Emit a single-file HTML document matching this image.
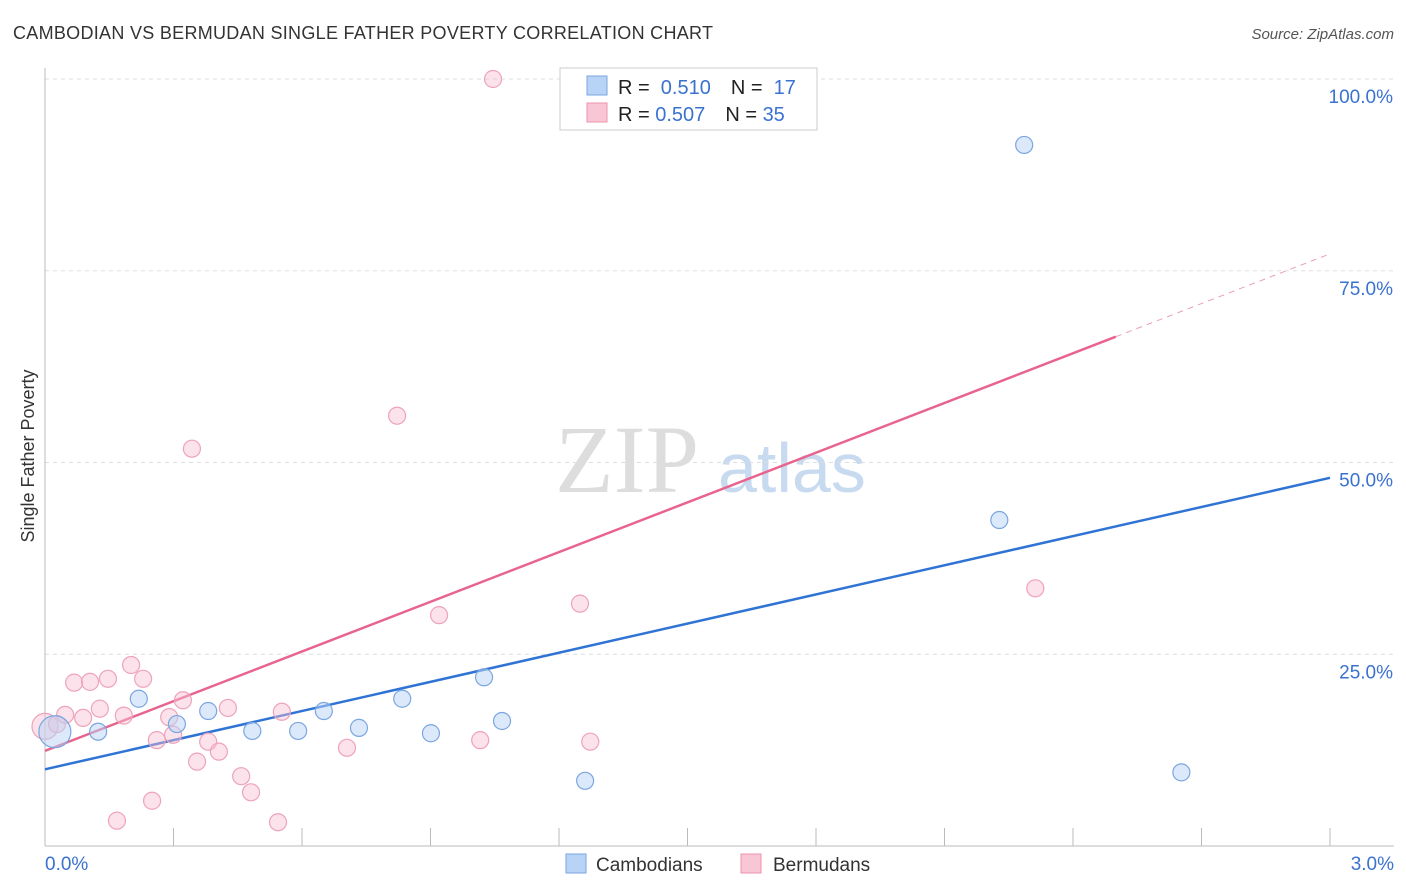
<!DOCTYPE html>
<html><head><meta charset="utf-8"><style>
body{margin:0;background:#fff;font-family:"Liberation Sans",sans-serif;}
svg{display:block}
</style></head><body>
<svg id="c" width="1406" height="892">
<text x="13" y="39" font-size="18" fill="#333" textLength="700">CAMBODIAN VS BERMUDAN SINGLE FATHER POVERTY CORRELATION CHART</text>
<text x="1394" y="39" font-size="15" fill="#555" font-style="italic" text-anchor="end">Source: ZipAtlas.com</text>
<text transform="translate(34,456) rotate(-90)" font-size="18" fill="#333" text-anchor="middle">Single Father Poverty</text>
<text x="555" y="492" font-size="96" fill="#ddd" font-family="Liberation Serif,serif">ZIP</text>
<text x="718" y="492" font-size="70" fill="#c8daf0">atlas</text>
<g id="grid"></g><g id="lines"></g><g id="pts"></g>
<g>
<rect x="560" y="68" width="257" height="62" fill="#fff" stroke="#ccc"/>
<rect x="587" y="76" width="20" height="19" fill="#b7d3f5" stroke="#7ba6e0"/>
<rect x="587" y="103" width="20" height="19" fill="#f9c6d5" stroke="#eb94ad"/>
<text x="618" y="94" font-size="20" fill="#222">R = <tspan fill="#3a72d0">&#160;0.510</tspan><tspan dx="20">N = </tspan><tspan fill="#3a72d0">&#160;17</tspan></text>
<text x="618" y="121" font-size="20" fill="#222">R = <tspan fill="#3a72d0">0.507</tspan><tspan dx="20">N = </tspan><tspan fill="#3a72d0">35</tspan></text>
</g>
<g>
<rect x="566" y="854" width="20" height="19" fill="#b7d3f5" stroke="#7ba6e0"/>
<text x="596" y="871" font-size="19" fill="#333">Cambodians</text>
<rect x="741" y="854" width="20" height="19" fill="#f9c6d5" stroke="#eb94ad"/>
<text x="773" y="871" font-size="19" fill="#333">Bermudans</text>
</g>
</svg>
<script>
const blueX=[0.023,0.124,0.219,0.308,0.381,0.484,0.591,0.651,0.733,0.834,0.901,1.025,1.067,1.261,2.228,2.286,2.653];
const blueY=[14.9,14.9,19.2,15.9,17.6,15.0,15.0,17.6,15.4,19.2,14.7,22.0,16.3,8.5,42.5,91.4,9.6];
const pinkX=[0.0,0.028,0.047,0.068,0.089,0.105,0.128,0.147,0.184,0.201,0.229,0.168,0.250,0.261,0.290,0.299,0.322,0.343,0.355,0.381,0.406,0.427,0.458,0.481,0.544,0.553,0.705,0.822,0.920,1.016,1.046,1.249,1.273,2.312,1.733];
const pinkY=[15.6,15.9,17.1,21.3,16.7,21.4,17.9,21.8,17.0,23.6,21.8,3.3,5.9,13.8,16.8,14.5,19.0,51.8,11.0,13.6,12.3,18.0,9.1,7.0,3.1,17.5,12.8,56.1,30.1,13.8,100,31.6,13.6,33.6,99.9];
const blueLine=[10.0,48.0];
const pinkLine=[12.4,77.2];
const pinkSolidEnd=2.5;
const yTicks=[25,50,75,100];
const yTickLabels=["25.0%","50.0%","75.0%","100.0%"];
const xTickLabels=["0.0%","3.0%"];
const NS="http://www.w3.org/2000/svg";
const X=v=>45+v/3*1285, Y=v=>846-v/100*767;
function mk(t,a,p){const e=document.createElementNS(NS,t);for(const k in a)e.setAttribute(k,a[k]);p.appendChild(e);return e;}
const g=document.getElementById('grid');
yTicks.forEach((t,i)=>{
 const l=mk('line',{x1:45,x2:1394,y1:Y(t),y2:Y(t),stroke:'#ddd','stroke-dasharray':'4,4'},g);
 
 
 const tx=mk('text',{x:1393,y:Y(t)+24,'font-size':19,fill:'#3a72d0','text-anchor':'end'},g);
 tx.textContent=yTickLabels[i];
 
 
});
let a=mk('line',{x1:45,x2:45,y1:68,y2:846,stroke:'#bbb'},g);


a=mk('line',{x1:45,x2:1394,y1:846,y2:846,stroke:'#bbb'},g);


for(let i=1;i<=10;i++){const t=mk('line',{x1:X(i*0.3),x2:X(i*0.3),y1:828,y2:846,stroke:'#bbb'},g);
 
 }
[[0,'start',45],[3,'end',1394]].forEach((d,i)=>{const t=mk('text',{x:d[2],y:870,'font-size':19,fill:'#3a72d0','text-anchor':d[1]},g);t.textContent=xTickLabels[i];
 
 });
const L=document.getElementById('lines');
let ln=mk('line',{x1:X(0),y1:Y(blueLine[0]),x2:X(3),y2:Y(blueLine[1]),stroke:'#2f74d4','stroke-width':2.5},L);


const py=x=>pinkLine[0]+(pinkLine[1]-pinkLine[0])*x/3;
ln=mk('line',{x1:X(0),y1:Y(py(0)),x2:X(pinkSolidEnd),y2:Y(py(pinkSolidEnd)),stroke:'#e8648e','stroke-width':2.5},L);


ln=mk('line',{x1:X(pinkSolidEnd),y1:Y(py(pinkSolidEnd)),x2:X(3),y2:Y(py(3)),stroke:'#e8a0b6','stroke-width':1,'stroke-dasharray':'6,5'},L);


const P=document.getElementById('pts');
pinkX.forEach((x,i)=>{const c=mk('circle',{cx:X(x),cy:Y(pinkY[i]),r:i==0?13:8.5,fill:'rgba(249,190,208,0.45)',stroke:'#eea3ba','stroke-width':1.2},P);
 
 });
blueX.forEach((x,i)=>{const c=mk('circle',{cx:X(x),cy:Y(blueY[i]),r:i==0?16:8.5,fill:'rgba(183,211,245,0.5)',stroke:'#7ba6e0','stroke-width':1.2},P);
 
 });
</script>
</body></html>
